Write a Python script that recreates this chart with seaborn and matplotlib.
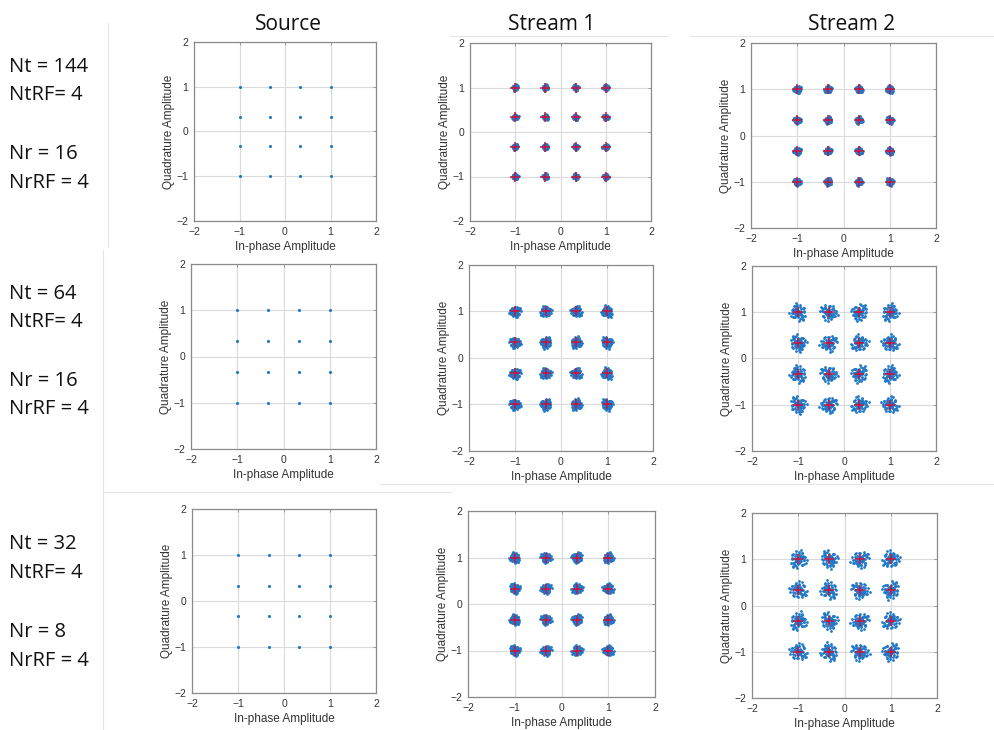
import numpy as np
import pandas as pd
import matplotlib
matplotlib.use("Agg")
import matplotlib.pyplot as plt
from matplotlib.lines import Line2D
import seaborn as sns

# 16-QAM ideal points (normalised)
niveles = [-1.0, -1/3, 1/3, 1.0]

# row labels (left of each row) and column titles
filas = [["Nt = 144", "NtRF= 4", "Nr = 16", "NrRF = 4"],
         ["Nt = 64", "NtRF= 4", "Nr = 16", "NrRF = 4"],
         ["Nt = 32", "NtRF= 4", "Nr = 8", "NrRF = 4"]]
columnas = ["Source", "Stream 1", "Stream 2"]

# cluster spread (Source, Stream 1, Stream 2)
dispersion = [[0.0, 0.045, 0.055],
              [0.0, 0.085, 0.125],
              [0.0, 0.08, 0.13]]

# shape of a received cluster, typed by eye (unit scale)
off_x = [0.3, -0.6, 0.9, -0.2, 0.5, -1.1, 0.7, -0.4, 1.2, -0.8, 0.1, -0.9, 0.6, 0.9, -0.5,
         0.4, -1.3, 0.2, -0.1, 0.8, -0.7, 0.5, -0.3, 1.5, -1.0, 0.0, 0.6, -0.6, 1.0, -1.2,
         0.3, -0.4, 0.7, -1.6, 1.1, -0.2, 0.8, -0.9, 0.2, 1.3,
         0.15, -0.25, 0.35, -0.45, 0.05, 0.55, -0.15, 0.25, -0.35, 0.45, -0.05, -0.55]
off_y = [-0.4, 0.5, 0.7, -1.0, 0.2, 0.6, -0.7, 1.1, -0.3, -0.8, 0.9, 0.1, -1.2, 0.6, 0.8,
         -0.6, -0.3, 1.0, -0.5, 0.9, -1.0, 0.3, 0.0, -0.2, 0.7, -1.1, 1.3, 0.3, -0.6, 0.1,
         0.5, 0.9, -0.9, 0.4, -0.8, 0.6, 0.0, -0.4, 1.5, -0.9,
         0.35, -0.15, -0.45, 0.25, -0.35, 0.05, 0.55, -0.25, 0.45, -0.05, 0.15, -0.55]

# axes boxes in pixels: left, right, top, bottom
cajas = [[(194, 376, 42, 221), (470, 651, 43, 221), (751, 936, 43, 228)],
         [(191, 376, 264, 449), (469, 653, 265, 451), (752, 936, 266, 451)],
         [(192, 376, 509, 693), (468, 655, 511, 697), (752, 937, 513, 698)]]
y_filas = [[67, 95, 154, 183], [294, 322, 381, 409], [544, 573, 632, 661]]
x_titulos = [288, 552, 852]

azul = "#1f78c8"
rojo = "#c8143c"

sns.set_style("white")
plt.rcParams["font.family"] = ["Liberation Sans", "DejaVu Sans"]

W, H = 994, 730
fig = plt.figure(figsize=(W / 100, H / 100), dpi=100)

ideal = pd.DataFrame([(i, q) for q in niveles[::-1] for i in niveles], columns=["I", "Q"])
signos = [(1, 1, False), (-1, 1, True), (1, -1, False), (-1, -1, True),
          (1, -1, True), (-1, 1, False), (-1, -1, False), (1, 1, True)]

for r in range(3):
    for c in range(3):
        l, rr, t, b = cajas[r][c]
        ax = fig.add_axes([l / W, 1 - b / H, (rr - l) / W, (b - t) / H])
        if c == 0:
            sns.scatterplot(data=ideal, x="I", y="Q", ax=ax, s=5, color=azul,
                            linewidth=0, legend=False)
        else:
            pts = []
            for k, (i0, q0) in enumerate(zip(ideal["I"], ideal["Q"])):
                sx, sy, swap = signos[(k * 3 + r + c) % 8]
                ox, oy = (off_y, off_x) if swap else (off_x, off_y)
                for dx, dy in zip(ox, oy):
                    pts.append((i0 + sx * dx * dispersion[r][c], q0 + sy * dy * dispersion[r][c]))
            rx = pd.DataFrame(pts, columns=["I", "Q"])
            sns.scatterplot(data=rx, x="I", y="Q", ax=ax, s=4, color=azul,
                            linewidth=0, legend=False)
            # ideal constellation points
            ax.plot(ideal["I"], ideal["Q"], "+", color=rojo, markersize=7,
                    markeredgewidth=1.1, zorder=6)
        ax.set_xlim(-2, 2)
        ax.set_ylim(-2, 2)
        ax.set_xticks([-2, -1, 0, 1, 2])
        ax.set_yticks([-2, -1, 0, 1, 2])
        ax.grid(True, color="#dadada", linewidth=0.8)
        ax.set_axisbelow(True)
        for s in ax.spines.values():
            s.set_color("#8a8a8a")
            s.set_linewidth(0.9)
        ax.tick_params(direction="in", length=2.5, width=0.6, color="#8a8a8a",
                       labelsize=7.5, labelcolor="#333333", pad=4, top=True, right=True)
        ax.set_xlabel("In-phase Amplitude", fontsize=8.5, color="#333333", labelpad=3)
        ax.set_ylabel("Quadrature Amplitude", fontsize=8.5, color="#333333", labelpad=1)

# row labels
for r in range(3):
    for txt, y in zip(filas[r], y_filas[r]):
        fig.text(9 / W, 1 - y / H, txt, fontsize=14.5, family=["Open Sans", "DejaVu Sans"],
                 va="center", ha="left", color="#111111")

# column titles
for txt, x in zip(columnas, x_titulos):
    fig.text(x / W, 1 - 24 / H, txt, fontsize=15, family=["Open Sans", "DejaVu Sans"],
             va="center", ha="center", color="#111111")

# faint borders of the pasted screenshots
gris = "#e4e4e4"
for (x0, y0, x1, y1) in [(108, 23, 108, 247), (103, 250, 103, 730), (450, 36, 668, 36),
                         (690, 36, 994, 36), (103, 492, 451, 492), (380, 484, 994, 484)]:
    fig.add_artist(Line2D([x0 / W, x1 / W], [1 - y0 / H, 1 - y1 / H], color=gris, lw=0.8))

fig.savefig("out.png", dpi=100)
